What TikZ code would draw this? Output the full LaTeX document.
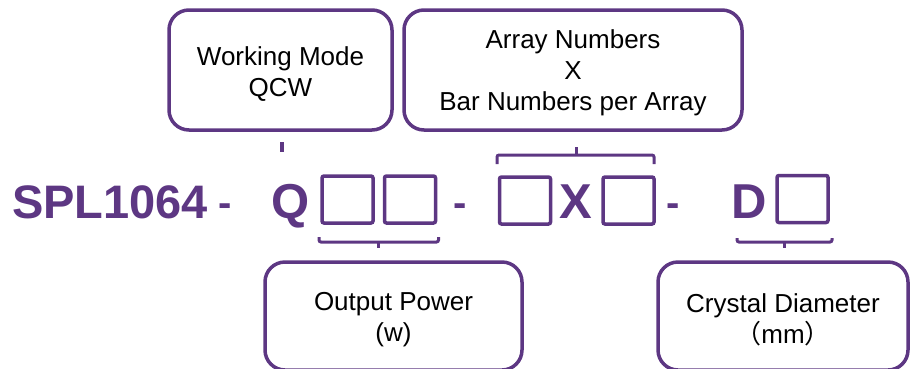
\documentclass[tikz,border=0pt]{standalone}
\usepackage{fontspec}
\setmainfont{Liberation Sans}
\newfontfamily\cjk{Noto Sans CJK SC}
\usetikzlibrary{calc}
\definecolor{splpurple}{RGB}{93,55,131}

\begin{document}
\begin{tikzpicture}[x=1pt,y=-1pt,
        infobox/.style={draw=splpurple,line width=3.5pt,rounded corners=20pt,
            inner sep=0pt,outer sep=0pt},
        boxtext/.style={align=center,font=\fontsize{26}{31}\selectfont,yshift=-4pt},
        slot/.style={draw=splpurple,line width=3.5pt,rounded corners=2pt,
            minimum width=51pt,minimum height=47pt,inner sep=0pt,outer sep=0pt},
        code/.style={text=splpurple,font=\fontsize{49}{49}\selectfont\bfseries,anchor=base,inner sep=0pt},
        brk/.style={draw=splpurple,line width=3pt,rounded corners=2pt}]
    \useasboundingbox (0,0) rectangle (910,368);

    % part number
    \node[code,font=\fontsize{47}{47}\selectfont\bfseries] (spl) at (110,218) {SPL1064};
    \node[code,font=\fontsize{40}{40}\selectfont\bfseries] (dash1) at (225,216) {-};
    \node[code] (q) at (291,218) {Q};
    \node[slot] (s1) at (347.5,199.5) {};
    \node[slot] (s2) at (410,199.5) {};
    \node[code,font=\fontsize{40}{40}\selectfont\bfseries] (dash2) at (460,216) {-};
    \node[slot] (s3) at (525,200.5) {};
    \node[code] (x) at (576,218) {X};
    \node[slot] (s4) at (628.5,200.5) {};
    \node[code,font=\fontsize{40}{40}\selectfont\bfseries] (dash3) at (673,216) {-};
    \node[code] (d) at (749,218) {D};
    \node[slot] (s5) at (802.5,199) {};

    % explanation boxes
    \node[infobox,minimum width=223pt,minimum height=120pt,
        label={[boxtext]center:Working Mode\\QCW}] (mode) at (280.5,70) {};
    \node[infobox,minimum width=338pt,minimum height=120pt,
        label={[boxtext,yshift=1pt]center:Array Numbers\\X\\Bar Numbers per Array}] (arr) at (573,70) {};
    \node[infobox,minimum width=257pt,minimum height=108pt,
        label={[boxtext]center:Output Power\\(w)}] (pow) at (393.5,316) {};
    \node[infobox,minimum width=250pt,minimum height=108pt,
        label={[boxtext]center:Crystal Diameter\\{\cjk （}mm{\cjk ）}}] (dia) at (783,316) {};

    % brackets
    \draw[brk,line width=3.5pt] ($(mode.south)+(1.5,12)$) -- ++(0,10);
    \draw[brk] ($(s1.south west)+(-3,14)$) -- ++(0,5) -| ($(s2.south east)+(3,14)$);
    \draw[brk] ($(s1.south east)!0.5!(s2.south west)+(0,19)$) -- ++(0,6);
    \draw[brk] ($(s3.north west)+(-2.5,-13)$) -- ++(0,-9) -| ($(s4.north east)+(0,-13)$);
    \draw[brk] ($(s3.north west)!0.5!(s4.north east)+(0,-22)$) -- ++(0,-8);
    \draw[brk] ($(s5.south west)+(-40,15.5)$) -- ++(0,4) -| ($(s5.south east)+(4,15.5)$);
    \draw[brk] ($(s5.south west)!0.5!(s5.south east)+(-18,19.5)$) -- ++(0,6);
\end{tikzpicture}
\end{document}
